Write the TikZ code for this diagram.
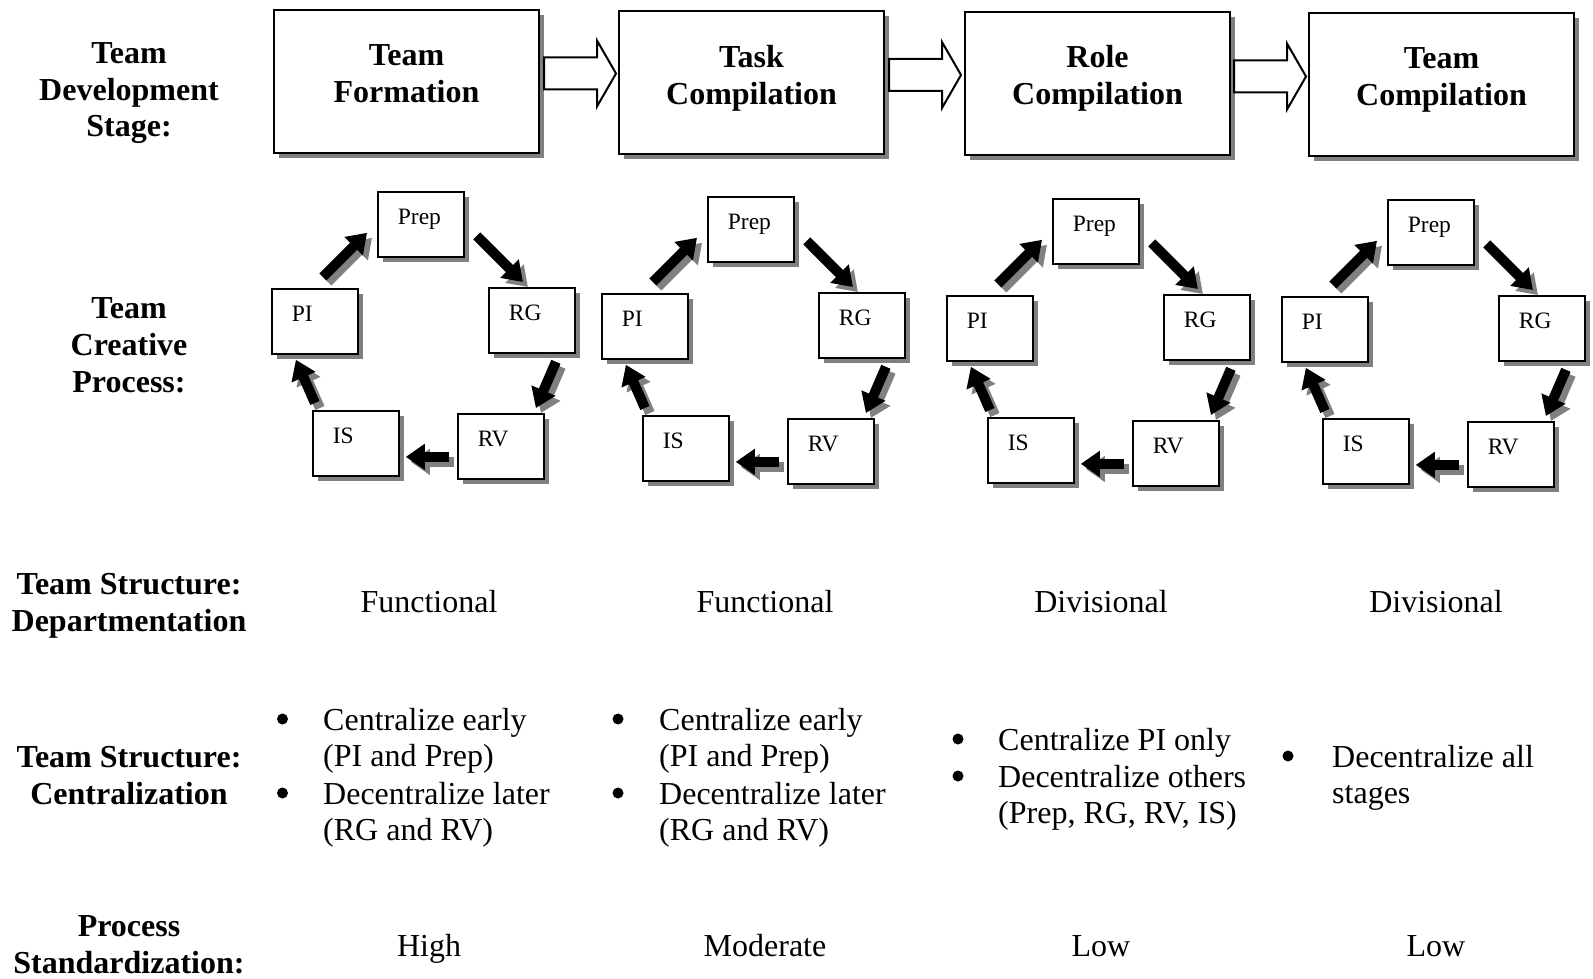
\documentclass[tikz,border=0pt]{standalone}
\usepackage{fontspec}
\setmainfont{Liberation Serif}
\usetikzlibrary{arrows.meta,calc,shadows}
\newcommand\CycArrow[2]{%
  \draw[cyc, color=black!50, transform canvas={shift={(5pt,-5pt)}}] #1 -- #2;
  \draw[cyc] #1 -- #2;}
\begin{document}
\begin{tikzpicture}[x=1pt,y=-1pt,
  every node/.style={inner sep=0pt},
  shadowed/.style={drop shadow={shadow xshift=5pt, shadow yshift=-5pt, fill=black!50, opacity=1}},
  bigbox/.style={draw, line width=2pt, fill=white, shadowed, anchor=north west,
    text width=265pt, align=center, text height=56pt, text depth=87pt,
    font=\fontsize{32}{36.6}\selectfont\bfseries},
  smallbox/.style={draw, line width=1.8pt, fill=white, shadowed, anchor=north west,
    inner xsep=20pt, inner ysep=0pt, text width=46pt, align=left,
    text height=33pt, text depth=32pt, font=\fontsize{23.5}{27}\selectfont},
  hollow/.style={draw, line width=2pt, fill=white, line join=miter},
  cyc/.style={line width=10pt, -{Triangle[length=19pt,width=25pt]}},
  lbl/.style={font=\fontsize{32}{36.6}\selectfont\bfseries, align=center, anchor=base},
  val/.style={font=\fontsize{32}{36.6}\selectfont, anchor=base},
  item/.style={font=\fontsize{32}{36.6}\selectfont, align=left, anchor=base west},
  bul/.style={circle, fill=black, minimum size=11pt}
]
\path[fill=white, use as bounding box] (0,0) rectangle (1593,979);

% row labels (anchor = baseline of the last line)
\node[lbl] (l1) at (129,137) {Team\\Development\\Stage:};
\node[lbl] (l2) at (129,392) {Team\\Creative\\Process:};
\node[lbl] (l3) at (129,631) {Team Structure:\\Departmentation};
\node[lbl] (l4) at (129,804) {Team Structure:\\Centralization};
\node[lbl] (l5) at (129,973) {Process\\Standardization:};

% development stages
\node[bigbox] (s1) at (273,9) {Team\\Formation};
\node[bigbox] (s2) at (618,10.5) {Task\\Compilation};
\node[bigbox] (s3) at (964,11) {Role\\Compilation};
\node[bigbox] (s4) at (1308,12) {Team\\Compilation};

\coordinate (h1) at ($(s1.east)+(4,-8)$);
\coordinate (h2) at ($(s2.east)+(4,-8)$);
\coordinate (h3) at ($(s3.east)+(3,-7)$);
\foreach \h in {h1,h2,h3}{
  \draw[hollow] (\h) +(0,-16) -- +(53,-16) -- +(53,-33) -- +(72,0) -- +(53,33) -- +(53,16) -- +(0,16) -- cycle;
}

% creative process cycles
\foreach \i/\dx/\dy in {1/0/0, 2/330/5, 3/675/7, 4/1010/8}{
  \node[smallbox] (Prep\i) at ({377+\dx},{191+\dy}) {Prep};
  \node[smallbox] (RG\i)   at ({488+\dx},{287+\dy}) {RG};
  \node[smallbox] (PI\i)   at ({271+\dx},{288+\dy}) {PI};
  \node[smallbox] (IS\i)   at ({312+\dx},{410+\dy}) {IS};
  \node[smallbox] (RV\i)   at ({457+\dx},{413+\dy}) {RV};
  \CycArrow{($(PI\i.north)+(8,-11)$)}{($(Prep\i.south west)+(-10,-25)$)}
  \CycArrow{($(Prep\i.east)+(12,11.5)$)}{($(RG\i.north)+(-9,-5)$)}
  \CycArrow{($(RG\i.south)+(24,8)$)}{($(RV\i.north)+(35,-5)$)}
  \CycArrow{($(RV\i.west)+(-8,10.5)$)}{($(IS\i.east)+(6,13.5)$)}
  \CycArrow{($(IS\i.north)+(-41,-7)$)}{($(PI\i.south)+(-19,5)$)}
}

% departmentation
\node[val] (d1) at (429,612) {Functional};
\node[val] (d2) at (765,612) {Functional};
\node[val] (d3) at (1101,612) {Divisional};
\node[val] (d4) at (1436,612) {Divisional};

% centralization (items anchored at the baseline of their last line)
\node[bul] (b1a) at (282.5,719) {};
\node[item] (c1a) at (323,766.6) {Centralize early\\(PI and Prep)};
\node[bul] (b1b) at (282.5,793) {};
\node[item] (c1b) at (323,840.6) {Decentralize later\\(RG and RV)};
\node[bul] (b2a) at (618,719) {};
\node[item] (c2a) at (659,766.6) {Centralize early\\(PI and Prep)};
\node[bul] (b2b) at (618,793) {};
\node[item] (c2b) at (659,840.6) {Decentralize later\\(RG and RV)};
\node[bul] (b3a) at (958,739) {};
\node[item] (c3a) at (998,750) {Centralize PI only};
\node[bul] (b3b) at (958,776) {};
\node[item] (c3b) at (998,823.6) {Decentralize others\\(Prep, RG, RV, IS)};
\node[bul] (b4a) at (1288,756) {};
\node[item] (c4a) at (1332,803.6) {Decentralize all\\stages};

% standardization
\node[val] (p1) at (429,956) {High};
\node[val] (p2) at (765,956) {Moderate};
\node[val] (p3) at (1101,956) {Low};
\node[val] (p4) at (1436,956) {Low};
\end{tikzpicture}
\end{document}
